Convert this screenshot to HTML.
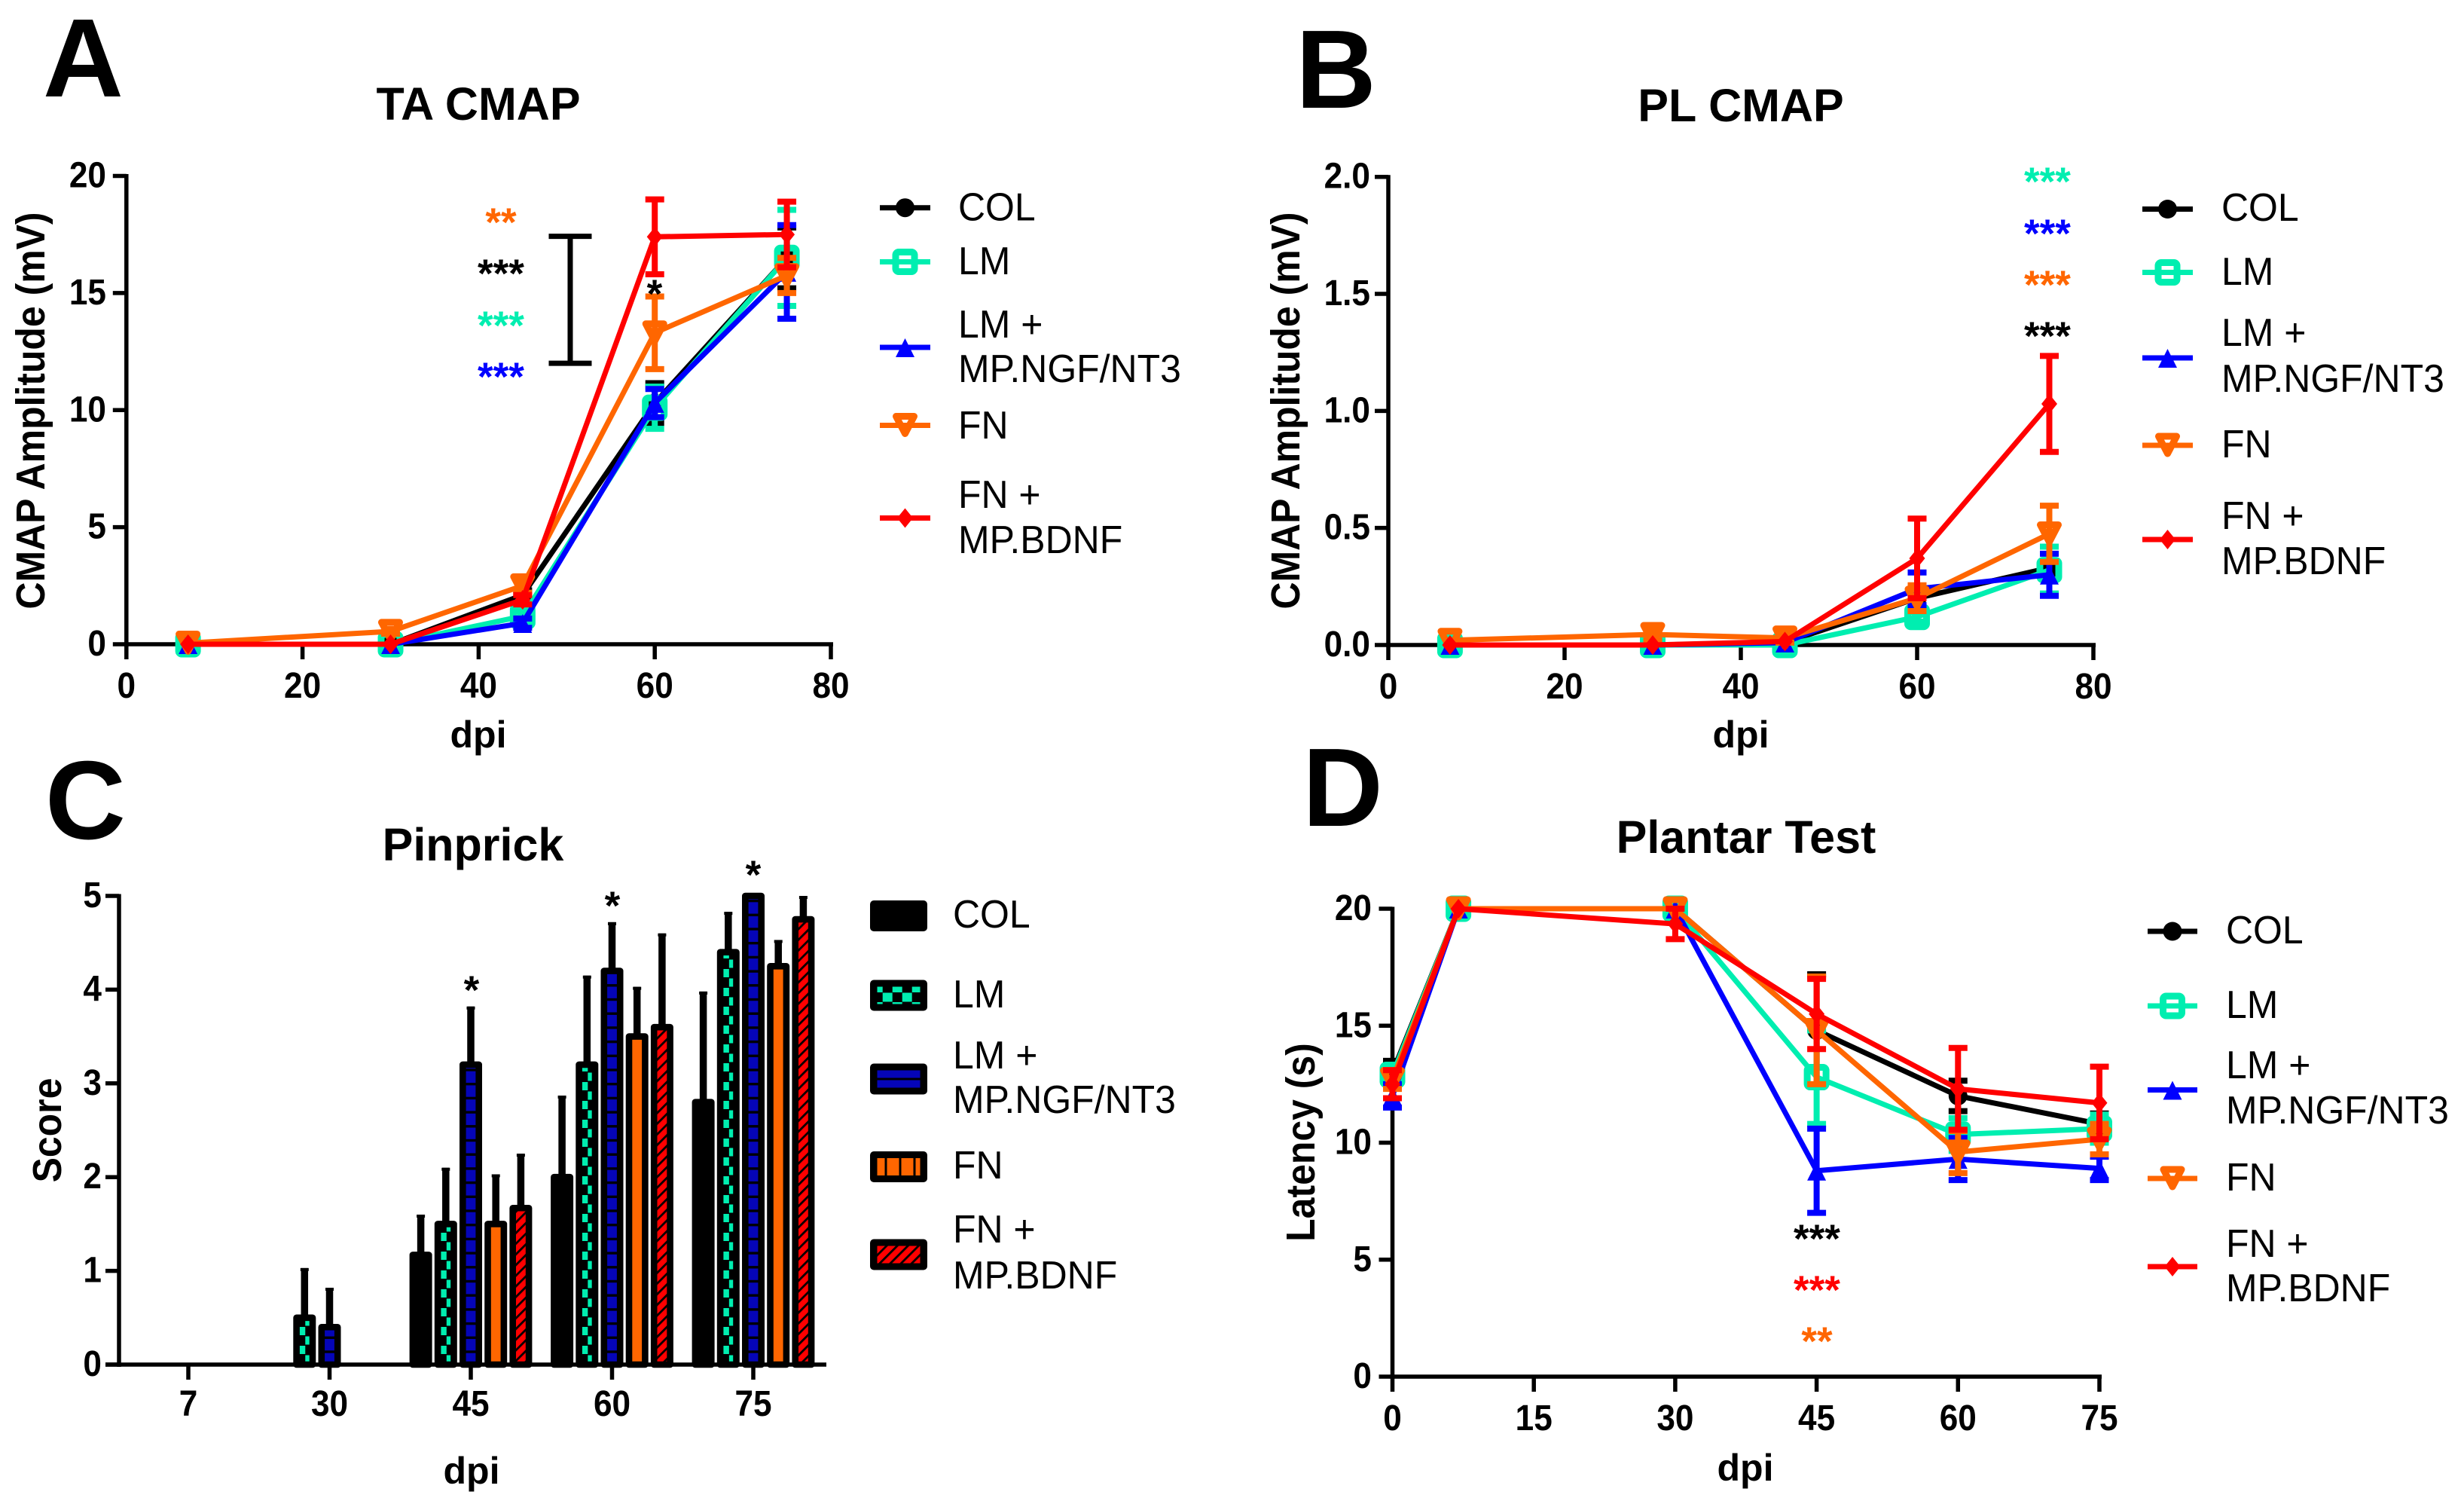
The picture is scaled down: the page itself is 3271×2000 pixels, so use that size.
<!DOCTYPE html>
<html lang="en">
<head>
<meta charset="utf-8">
<title>Nerve regeneration outcome charts</title>
<style>
html,body{margin:0;padding:0;background:#fff;}
svg{display:block;}
text{font-family:"Liberation Sans",Arial,sans-serif;fill:#000;}
.letter{font-size:148px;font-weight:700;}
.title{font-size:61px;font-weight:700;text-anchor:middle;}
.axt{font-size:50px;font-weight:700;text-anchor:middle;}
.axv{font-size:54px;font-weight:700;text-anchor:middle;}
.tick{font-size:48px;font-weight:700;}
.leg{font-size:52px;}
.star{font-size:53px;font-weight:700;text-anchor:middle;}
</style>
</head>
<body>
<svg id="figure" xmlns="http://www.w3.org/2000/svg" width="3271" height="2000" viewBox="0 0 3271 2000">
<defs>
  <pattern id="pat-lm" patternUnits="userSpaceOnUse" x="579.4" y="1811" width="26.79" height="25">
    <rect width="26.79" height="25" fill="#000"/>
    <rect x="0" y="0" width="13.39" height="11" fill="#00eeb0"/>
    <rect x="13.39" y="12.5" width="13.39" height="11" fill="#00eeb0"/>
  </pattern>
  <pattern id="pat-lm-legend" patternUnits="userSpaceOnUse" x="1171.7" y="1317.5" width="26" height="25">
    <rect width="26" height="25" fill="#000"/>
    <rect x="0" y="0" width="13" height="12" fill="#00eeb0"/>
    <rect x="13" y="12.5" width="13" height="12" fill="#00eeb0"/>
  </pattern>
  <pattern id="pat-ngf" patternUnits="userSpaceOnUse" x="0" y="1811" width="20" height="18.7">
    <rect width="20" height="18.7" fill="#0505b8"/>
    <rect x="0" y="0" width="20" height="3.4" fill="#000"/>
  </pattern>
  <pattern id="pat-fn-legend" patternUnits="userSpaceOnUse" x="1174.5" y="0" width="19" height="20">
    <rect width="19" height="20" fill="#ff6600"/>
    <rect x="0" y="0" width="3" height="20" fill="#000"/>
  </pattern>
  <pattern id="pat-bdnf" patternUnits="userSpaceOnUse" x="0" y="0" width="10" height="10" patternTransform="rotate(45)">
    <rect width="10" height="10" fill="#ff0000"/>
    <rect x="0" y="0" width="2.8" height="10" fill="#000"/>
  </pattern>
</defs>

<rect width="3271" height="2000" fill="#fff"/>

<!-- Panel letters -->
<text class="letter" x="57" y="128">A</text>
<text class="letter" x="1720" y="143">B</text>
<text class="letter" x="60" y="1113">C</text>
<text class="letter" x="1729" y="1096">D</text>

<!-- Titles -->
<text class="title" x="635" y="159">TA CMAP</text>
<text class="title" x="2311" y="161">PL CMAP</text>
<text class="title" x="628" y="1142">Pinprick</text>
<text class="title" x="2318" y="1132">Plantar Test</text>

<!-- Axis titles -->
<text class="axt" x="635" y="992">dpi</text>
<text class="axt" x="2311" y="992">dpi</text>
<text class="axt" x="626" y="1969">dpi</text>
<text class="axt" x="2317" y="1965">dpi</text>
<text class="axv" transform="translate(59 545) rotate(-90) scale(.925 1)">CMAP Amplitude (mV)</text>
<text class="axv" transform="translate(1725 545) rotate(-90) scale(.925 1)">CMAP Amplitude (mV)</text>
<text class="axv" transform="translate(81 1500) rotate(-90) scale(.925 1)">Score</text>
<text class="axv" transform="translate(1745 1516) rotate(-90) scale(.925 1)">Latency (s)</text>

<g id="panel-a"></g>
<g id="panel-b"></g>
<g id="panel-c"></g>
<g id="panel-d"></g>

<!-- Significance stars -->
<g>
  <text class="star" style="fill:#ff6600" x="665" y="313">**</text>
  <text class="star" style="fill:#000" x="665" y="381">***</text>
  <text class="star" style="fill:#00eeb0" x="665" y="450">***</text>
  <text class="star" style="fill:#0000ff" x="665" y="518">***</text>
  <text class="star" style="fill:#000" x="869" y="408">*</text>
</g>
<g>
  <text class="star" style="fill:#00eeb0" x="2718" y="259">***</text>
  <text class="star" style="fill:#0000ff" x="2718" y="328">***</text>
  <text class="star" style="fill:#ff6600" x="2718" y="396">***</text>
  <text class="star" style="fill:#000" x="2718" y="464">***</text>
</g>
<g>
  <text class="star" x="626" y="1332">*</text>
  <text class="star" x="813" y="1220">*</text>
  <text class="star" x="1000" y="1179">*</text>
</g>
<g>
  <text class="star" style="fill:#000" x="2412" y="1662">***</text>
  <text class="star" style="fill:#ff0000" x="2412" y="1730">***</text>
  <text class="star" style="fill:#ff6600" x="2412" y="1798">**</text>
</g>

<!-- Legend text -->
<g>
  <text class="leg" x="1272" y="292.5">COL</text>
  <text class="leg" x="1272" y="364">LM</text>
  <text class="leg" x="1272" y="448">LM +</text>
  <text class="leg" x="1272" y="507">MP.NGF/NT3</text>
  <text class="leg" x="1272" y="582">FN</text>
  <text class="leg" x="1272" y="674">FN +</text>
  <text class="leg" x="1272" y="734">MP.BDNF</text>
</g>
<g>
  <text class="leg" x="2949" y="293">COL</text>
  <text class="leg" x="2949" y="378">LM</text>
  <text class="leg" x="2949" y="459">LM +</text>
  <text class="leg" x="2949" y="520">MP.NGF/NT3</text>
  <text class="leg" x="2949" y="607">FN</text>
  <text class="leg" x="2949" y="702">FN +</text>
  <text class="leg" x="2949" y="762">MP.BDNF</text>
</g>
<g>
  <text class="leg" x="1265" y="1231">COL</text>
  <text class="leg" x="1265" y="1337">LM</text>
  <text class="leg" x="1265" y="1418">LM +</text>
  <text class="leg" x="1265" y="1477">MP.NGF/NT3</text>
  <text class="leg" x="1265" y="1564">FN</text>
  <text class="leg" x="1265" y="1649">FN +</text>
  <text class="leg" x="1265" y="1710">MP.BDNF</text>
</g>
<g>
  <text class="leg" x="2955" y="1252">COL</text>
  <text class="leg" x="2955" y="1351">LM</text>
  <text class="leg" x="2955" y="1431">LM +</text>
  <text class="leg" x="2955" y="1491">MP.NGF/NT3</text>
  <text class="leg" x="2955" y="1580">FN</text>
  <text class="leg" x="2955" y="1668">FN +</text>
  <text class="leg" x="2955" y="1727">MP.BDNF</text>
</g>
</svg>

<script>
/* ---------- Panel A: TA CMAP ---------- */
const taDpi = [7, 30, 45, 60, 75];
const taCol = [0, 0, 2.1, 10.3, 16.5];
const taColErr = [0, 0, 0.2, 0.85, 1.3];
const taLm = [0, 0, 1.2, 10.1, 16.5];
const taLmErr = [0, 0, 0.2, 0.9, 2.05];
const taNgf = [0, 0, 0.9, 10.3, 15.9];
const taNgfErr = [0, 0, 0.2, 0.6, 2];
const taFn = [0.05, 0.55, 2.5, 13.3, 15.75];
const taFnErr = [0, 0.1, 0.3, 1.55, 0.75];
const taBdnf = [0, 0, 1.9, 17.4, 17.5];
const taBdnfErr = [0, 0, 0.2, 1.6, 1.4];
const taBracket = [12, 17.42];
const taXTicks = [0, 20, 40, 60, 80];
const taYTicks = [0, 5, 10, 15, 20];

/* ---------- Panel B: PL CMAP ---------- */
const plDpi = [7, 30, 45, 60, 75];
const plCol = [0, 0, 0.01, 0.2, 0.33];
const plColErr = [0, 0, 0, 0.03, 0.03];
const plLm = [0, 0, 0, 0.12, 0.32];
const plLmErr = [0, 0, 0, 0.02, 0.1];
const plNgf = [0, 0, 0.01, 0.24, 0.3];
const plNgfErr = [0, 0, 0, 0.07, 0.09];
const plFn = [0.02, 0.045, 0.03, 0.2, 0.475];
const plFnErr = [0, 0.025, 0.02, 0.055, 0.12];
const plBdnf = [0, 0, 0.015, 0.37, 1.03];
const plBdnfErr = [0, 0, 0, 0.17, 0.205];
const plXTicks = [0, 20, 40, 60, 80];
const plYTicks = [0, 0.5, 1, 1.5, 2];

/* ---------- Panel C: Pinprick ---------- */
const ppCategories = ['7', '30', '45', '60', '75'];
const ppCol = [0, 0, 1.17, 2, 2.8];
const ppColErr = [0, 0, 0.43, 0.87, 1.18];
const ppLm = [0, 0.5, 1.5, 3.2, 4.4];
const ppLmErr = [0, 0.53, 0.6, 0.95, 0.43];
const ppNgf = [0, 0.4, 3.2, 4.2, 5];
const ppNgfErr = [0, 0.42, 0.62, 0.52, 0];
const ppFn = [0, 0, 1.5, 3.5, 4.25];
const ppFnErr = [0, 0, 0.53, 0.53, 0.28];
const ppBdnf = [0, 0, 1.67, 3.6, 4.75];
const ppBdnfErr = [0, 0, 0.58, 1, 0.27];
const ppYTicks = [0, 1, 2, 3, 4, 5];

/* ---------- Panel D: Plantar Test ---------- */
const ptDpi = [0, 7, 30, 45, 60, 75];
const ptCol = [13, 20, 20, 14.8, 12, 10.8];
const ptColErr = [0.5, 0, 0, 2.4, 0.65, 0.45];
const ptLm = [12.9, 20, 20, 12.8, 10.35, 10.6];
const ptLmErr = [0.3, 0, 0.3, 2, 0.7, 0.6];
const ptNgf = [12, 20, 20, 8.8, 9.3, 8.9];
const ptNgfErr = [0.5, 0, 0, 1.8, 0.9, 0.5];
const ptFn = [12.7, 20, 20, 14.8, 9.6, 10.15];
const ptFnErr = [0.4, 0, 0, 2.3, 0.9, 0.65];
const ptBdnf = [12.5, 20, 19.35, 15.5, 12.3, 11.7];
const ptBdnfErr = [0.6, 0, 0.65, 1.5, 1.75, 1.55];
const ptXTicks = [0, 15, 30, 45, 60, 75];
const ptYTicks = [0, 5, 10, 15, 20];

const NS = 'http://www.w3.org/2000/svg';
const BLACK = '#000', TEAL = '#00eeb0', BLUE = '#0000ff', ORANGE = '#ff6600', RED = '#ff0000';

function lin(d0, d1, r0, r1) {
  return function (v) { return r0 + (v - d0) * (r1 - r0) / (d1 - d0); };
}
function make(parent, tag, props) {
  const el = document.createElementNS(NS, tag);
  for (const k in props) el.setAttribute(k, props[k]);
  parent.appendChild(el);
  return el;
}
function line(parent, x1, y1, x2, y2, color, width, name) {
  const el = make(parent, 'line', {x1: x1, y1: y1, x2: x2, y2: y2, stroke: color, 'stroke-width': width});
  
  
  return el;
}
function marker(parent, kind, cx, cy, color, name) {
  let el;
  if (kind === 'circle') {
    el = make(parent, 'circle', {cx: cx, cy: cy, r: 12.5, fill: color});
  } else if (kind === 'square') {
    el = make(parent, 'rect', {x: cx - 12.5, y: cy - 13, width: 25, height: 26, rx: 4, fill: 'none', stroke: color, 'stroke-width': 9});
  } else if (kind === 'up') {
    el = make(parent, 'polygon', {points: [cx, cy - 12, cx + 12.5, cy + 13, cx - 12.5, cy + 13].join(' '), fill: color});
  } else if (kind === 'down') {
    el = make(parent, 'polygon', {points: [cx - 12, cy - 12, cx + 12, cy - 12, cx, cy + 11].join(' '), fill: 'none', stroke: color, 'stroke-width': 9, 'stroke-linejoin': 'round'});
  } else {
    el = make(parent, 'polygon', {points: [cx, cy - 13, cx + 10.5, cy, cx, cy + 13, cx - 10.5, cy].join(' '), fill: color});
  }
  
  
  return el;
}
function axisLabel(parent, x, y, anchor, str, name) {
  const el = make(parent, 'text', {transform: 'translate(' + x + ' ' + y + ') scale(.92 1)', 'text-anchor': anchor, 'class': 'tick'});
  el.textContent = str;
  
  
  return el;
}
function drawLineAxes(root, sx, sy, xTicks, yTicks, labelY, labelRight, fmt, p) {
  const x0 = sx(xTicks[0]), xN = sx(xTicks[xTicks.length - 1]);
  const y0 = sy(yTicks[0]), yN = sy(yTicks[yTicks.length - 1]);
  line(root, x0 - 3, y0, xN + 3, y0, BLACK, 5.5, 'x-axis-' + p);
  line(root, x0, yN - 2.5, x0, y0 + 3, BLACK, 5.5, 'y-axis-' + p);
  xTicks.forEach(function (t) {
    line(root, sx(t), y0, sx(t), y0 + 20, BLACK, 5.5, 'x-tick-' + p + '-' + t);
    axisLabel(root, sx(t), labelY, 'middle', String(t), 'x-tick-label-' + p + '-' + t);
  });
  yTicks.forEach(function (t) {
    line(root, x0 - 18, sy(t), x0, sy(t), BLACK, 5.5, 'y-tick-' + p + '-' + t);
    axisLabel(root, labelRight, sy(t) + 15, 'end', fmt(t), 'y-tick-label-' + p + '-' + t);
  });
}
function drawSeries(root, sx, sy, xs, vals, errs, color, kind, name) {
  const g = make(root, 'g', {});
  
  
  const path = make(g, 'polyline', {
    points: xs.map(function (x, i) { return sx(x) + ',' + sy(vals[i]); }).join(' '),
    fill: 'none', stroke: color, 'stroke-width': 7, 'stroke-linejoin': 'round'
  });
  
  
  xs.forEach(function (x, i) {
    const cx = sx(x);
    if (errs[i] > 0) {
      const hi = sy(vals[i] + errs[i]), lo = sy(vals[i] - errs[i]);
      line(g, cx, hi, cx, lo, color, 8, 'error-bar-' + name + '-' + x);
      line(g, cx - 12.5, hi, cx + 12.5, hi, color, 8, 'error-cap-top-' + name + '-' + x);
      line(g, cx - 12.5, lo, cx + 12.5, lo, color, 8, 'error-cap-bottom-' + name + '-' + x);
    }
    marker(g, kind, cx, sy(vals[i]), color, 'point-' + name + '-' + x);
  });
}
function legendLine(root, x1, x2, y, color, kind, name) {
  line(root, x1, y, x2, y, color, 7, 'legend-line-' + name);
  marker(root, kind, (x1 + x2) / 2, y, color, 'legend-marker-' + name);
}
function drawLegend(root, x1, x2, ys, p) {
  legendLine(root, x1, x2, ys[0], BLACK, 'circle', 'col-' + p);
  legendLine(root, x1, x2, ys[1], TEAL, 'square', 'lm-' + p);
  legendLine(root, x1, x2, ys[2], BLUE, 'up', 'ngf-' + p);
  legendLine(root, x1, x2, ys[3], ORANGE, 'down', 'fn-' + p);
  legendLine(root, x1, x2, ys[4], RED, 'diamond', 'bdnf-' + p);
}

/* Legend text: taller, slightly condensed glyphs as in the reference */
document.querySelectorAll('.leg').forEach(function (t) {
  const x = t.getAttribute('x');
  t.setAttribute('transform', 'translate(' + x + ' 0) scale(.96 1) translate(' + (-x) + ' 0)');
});

/* Panel A */
const panelA = document.getElementById('panel-a');
const xA = lin(0, 80, 167.8, 1103);
const yA = lin(0, 20, 855, 233.5);
drawLineAxes(panelA, xA, yA, taXTicks, taYTicks, 926, 141, String, 'a');
line(panelA, xA(50.4), yA(taBracket[0]), xA(50.4), yA(taBracket[1]), BLACK, 7, 'comparison-bracket-stem');
line(panelA, xA(50.4) - 28.5, yA(taBracket[0]), xA(50.4) + 28.5, yA(taBracket[0]), BLACK, 7, 'comparison-bracket-bottom');
line(panelA, xA(50.4) - 28.5, yA(taBracket[1]), xA(50.4) + 28.5, yA(taBracket[1]), BLACK, 7, 'comparison-bracket-top');
drawSeries(panelA, xA, yA, taDpi, taCol, taColErr, BLACK, 'circle', 'col-a');
drawSeries(panelA, xA, yA, taDpi, taLm, taLmErr, TEAL, 'square', 'lm-a');
drawSeries(panelA, xA, yA, taDpi, taNgf, taNgfErr, BLUE, 'up', 'ngf-a');
drawSeries(panelA, xA, yA, taDpi, taFn, taFnErr, ORANGE, 'down', 'fn-a');
drawSeries(panelA, xA, yA, taDpi, taBdnf, taBdnfErr, RED, 'diamond', 'bdnf-a');
drawLegend(panelA, 1168, 1235, [275.7, 347.5, 461, 564.5, 687.5], 'a');

/* Panel B */
const panelB = document.getElementById('panel-b');
const xB = lin(0, 80, 1843, 2779);
const yB = lin(0, 2, 856, 234.7);
drawLineAxes(panelB, xB, yB, plXTicks, plYTicks, 927, 1819, function (t) { return t.toFixed(1); }, 'b');
drawSeries(panelB, xB, yB, plDpi, plCol, plColErr, BLACK, 'circle', 'col-b');
drawSeries(panelB, xB, yB, plDpi, plLm, plLmErr, TEAL, 'square', 'lm-b');
drawSeries(panelB, xB, yB, plDpi, plNgf, plNgfErr, BLUE, 'up', 'ngf-b');
drawSeries(panelB, xB, yB, plDpi, plFn, plFnErr, ORANGE, 'down', 'fn-b');
drawSeries(panelB, xB, yB, plDpi, plBdnf, plBdnfErr, RED, 'diamond', 'bdnf-b');
drawLegend(panelB, 2844, 2911, [277.5, 361.5, 475, 591, 716], 'b');

/* Panel D */
const panelD = document.getElementById('panel-d');
const xD = lin(0, 75, 1848.5, 2787);
const yD = lin(0, 20, 1827, 1206);
drawLineAxes(panelD, xD, yD, ptXTicks, ptYTicks, 1898, 1821, String, 'd');
drawSeries(panelD, xD, yD, ptDpi, ptCol, ptColErr, BLACK, 'circle', 'col-d');
drawSeries(panelD, xD, yD, ptDpi, ptLm, ptLmErr, TEAL, 'square', 'lm-d');
drawSeries(panelD, xD, yD, ptDpi, ptNgf, ptNgfErr, BLUE, 'up', 'ngf-d');
drawSeries(panelD, xD, yD, ptDpi, ptFn, ptFnErr, ORANGE, 'down', 'fn-d');
drawSeries(panelD, xD, yD, ptDpi, ptBdnf, ptBdnfErr, RED, 'diamond', 'bdnf-d');
drawLegend(panelD, 2851, 2917, [1236, 1335, 1446.5, 1564, 1681], 'd');

/* Panel C */
const panelC = document.getElementById('panel-c');
const GROUP_PITCH = 187.5, BAR_PITCH = 33.2, BAR_W = 30, BAR_STROKE = 8.6;
const xC = function (i) { return 250 + GROUP_PITCH * i; };
const yC = lin(0, 5, 1811, 1189);
ppYTicks.forEach(function (t) {
  line(panelC, 140, yC(t), 158, yC(t), BLACK, 5.5, 'y-tick-c-' + t);
  axisLabel(panelC, 135, yC(t) + 15, 'end', String(t), 'y-tick-label-c-' + t);
});
function drawBars(vals, errs, offset, fill, name) {
  vals.forEach(function (v, i) {
    if (v <= 0) return;
    const cx = xC(i) + offset * BAR_PITCH;
    if (errs[i] > 0) {
      const top = Math.max(yC(v + errs[i]), yC(5));
      line(panelC, cx, yC(v), cx, top, BLACK, 9.5, 'bar-error-' + name + '-' + ppCategories[i]);
      line(panelC, cx - 5.5, top + 2, cx + 5.5, top + 2, BLACK, 4, 'bar-error-cap-' + name + '-' + ppCategories[i]);
    }
    const inner = BAR_W - BAR_STROKE;
    const el = make(panelC, 'rect', {
      x: cx - inner / 2, y: yC(v), width: inner, height: yC(0) - yC(v),
      fill: fill, stroke: BLACK, 'stroke-width': BAR_STROKE, 'stroke-linejoin': 'round'
    });
    
    
  });
}
drawBars(ppCol, ppColErr, -2, BLACK, 'col');
drawBars(ppLm, ppLmErr, -1, 'url(#pat-lm)', 'lm');
drawBars(ppNgf, ppNgfErr, 0, 'url(#pat-ngf)', 'ngf');
drawBars(ppFn, ppFnErr, 1, ORANGE, 'fn');
drawBars(ppBdnf, ppBdnfErr, 2, 'url(#pat-bdnf)', 'bdnf');
line(panelC, 140, yC(0), 1097, yC(0), BLACK, 5.5, 'x-axis-c');
line(panelC, 158, yC(5) - 2.5, 158, yC(0) + 3, BLACK, 5.5, 'y-axis-c');
ppCategories.forEach(function (c, i) {
  line(panelC, xC(i), yC(0), xC(i), yC(0) + 20, BLACK, 5.5, 'x-tick-c-' + c);
  axisLabel(panelC, xC(i), 1879, 'middle', c, 'x-tick-label-c-' + c);
});
function swatch(cy, fill, name) {
  const box = make(panelC, 'rect', {x: 1155, y: cy - 20.5, width: 76, height: 41, rx: 5, fill: BLACK});
  
  
  const inner = make(panelC, 'rect', {x: 1164.5, y: cy - 11.5, width: 57, height: 23, fill: fill});
  
  
}
swatch(1215.5, BLACK, 'col');
swatch(1321, 'url(#pat-lm-legend)', 'lm');
swatch(1432, '#0505b8', 'ngf');
line(panelC, 1164.5, 1432, 1221.5, 1432, BLACK, 3, 'legend-swatch-line-ngf');
swatch(1548.5, 'url(#pat-fn-legend)', 'fn');
swatch(1665, 'url(#pat-bdnf)', 'bdnf');
</script>
</body>
</html>
